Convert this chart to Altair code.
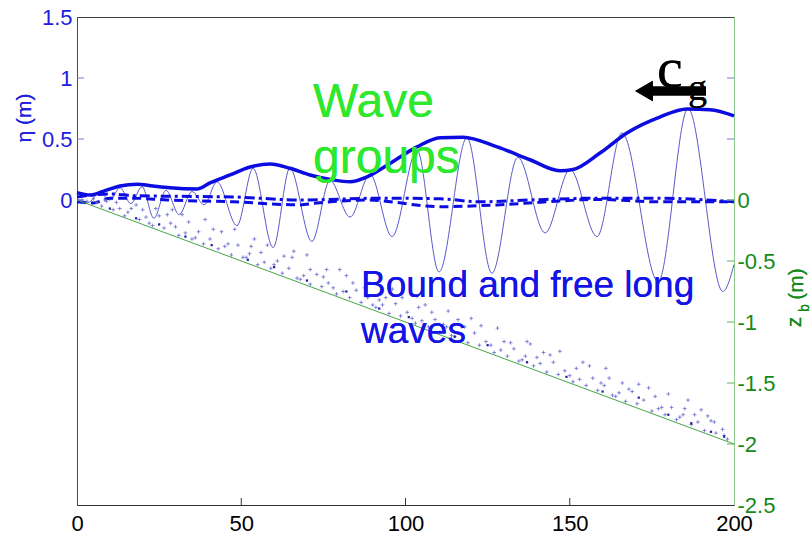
import altair as alt
import pandas as pd

# ---------------- data ----------------
# thin free-surface wave: alternating crests / troughs
wave_x = [0, 3.4, 7.0, 10.0, 13.1, 16.4, 19.8, 23.4, 27.1, 31.1, 35.0, 38.7, 42.6, 48.7,
          53.6, 59.7, 64.8, 71.5, 77.0, 83.1, 89.2, 95.9, 103.5, 110.2, 118.7, 126.3,
          134.2, 142.5, 150.1, 158.3, 165.9, 176.9, 186.0, 196.6, 200]
wave_eta = [0.01, -0.02, 0.06, 0.0, 0.10, -0.03, 0.11, -0.15, 0.08, -0.12, 0.07, -0.04,
            0.15, -0.21, 0.26, -0.39, 0.26, -0.34, 0.16, -0.14, 0.21, -0.30, 0.41, -0.59,
            0.51, -0.60, 0.35, -0.27, 0.25, -0.30, 0.55, -0.67, 0.75, -0.75, -0.53]

# wave-group envelope (thick solid)
env_x = [0, 4.0, 7.9, 13.1, 18.3, 23.1, 28.3, 36.5, 40.5, 46.6, 52.7, 58.8, 64.8, 70.9,
         77.9, 83.1, 88.3, 95.3, 103.5, 110.5, 117.5, 127.9, 137.9, 147.0, 151.0, 159.2,
         167.4, 177.4, 185.7, 192.7, 200]
env_eta = [0.06, 0.04, 0.07, 0.115, 0.13, 0.115, 0.10, 0.09, 0.14, 0.205, 0.27, 0.295,
           0.26, 0.205, 0.165, 0.15, 0.19, 0.30, 0.435, 0.51, 0.515, 0.435, 0.33, 0.24,
           0.25, 0.385, 0.55, 0.68, 0.745, 0.74, 0.69]

# long waves (dash-dot and dashed)
dd_x = [0, 10, 17.4, 31.7, 47.5, 67.9, 93.2, 110.5, 122.7, 138, 158.3, 176.6, 200]
dd_eta = [0.025, 0.05, 0.035, 0.03, 0.025, 0.0, 0.015, 0.01, -0.015, 0.0, 0.015, 0.015, -0.015]
ds_x = [0, 4.9, 10, 17, 27.4, 47.5, 67.9, 73, 88.3, 110.5, 127.9, 143, 158.3, 176.6, 200]
ds_eta = [-0.015, -0.025, 0.015, 0.015, 0.0, -0.015, -0.04, -0.025, 0.0, -0.055, -0.04,
          -0.015, 0.005, -0.015, -0.015]

# bed level
bed_x = [0, 200]
bed_z = [0, -2]

# scattered markers above the bed
plus_x_a = [3, 7.5, 11, 14.5, 19, 23, 26.5, 31, 35, 38.5, 43, 47, 50.5, 55, 59, 62.5, 67, 71,
            74.5, 79, 83, 86.5, 91, 95, 98.5, 103, 107, 110.5, 115, 119, 122.5, 127, 131,
            134.5, 139, 143, 146.5, 151, 155, 158.5, 163, 167, 170.5, 175, 179, 182.5, 187,
            191, 194.5, 198]
plus_z_a = [-0.01, -0.05, -0.08, -0.13, -0.16, -0.21, -0.23, -0.29, -0.32, -0.36, -0.40,
            -0.45, -0.47, -0.53, -0.56, -0.60, -0.64, -0.69, -0.71, -0.77, -0.80, -0.84,
            -0.88, -0.93, -0.95, -1.01, -1.04, -1.08, -1.12, -1.17, -1.19, -1.25, -1.28,
            -1.32, -1.36, -1.41, -1.43, -1.49, -1.52, -1.56, -1.60, -1.65, -1.67, -1.73,
            -1.76, -1.80, -1.84, -1.89, -1.91, -1.96]
plus_x_b = [5, 9, 13, 16.5, 21, 25, 28.5, 33, 37, 40.5, 45, 49, 52.5, 57, 61, 64.5, 69, 73,
            76.5, 81, 85, 88.5, 93, 97, 100.5, 105, 109, 112.5, 117, 121, 124.5, 129, 133,
            136.5, 141, 145, 148.5, 153, 157, 160.5, 165, 169, 172.5, 177, 181, 184.5, 189,
            193, 196.5]
plus_z_b = [0.01, -0.01, -0.07, -0.07, -0.14, -0.13, -0.19, -0.27, -0.26, -0.32, -0.38,
            -0.37, -0.44, -0.51, -0.50, -0.56, -0.62, -0.61, -0.68, -0.75, -0.74, -0.80,
            -0.86, -0.85, -0.92, -0.99, -0.98, -1.04, -1.10, -1.09, -1.16, -1.23, -1.22,
            -1.28, -1.34, -1.33, -1.40, -1.47, -1.46, -1.52, -1.58, -1.57, -1.64, -1.71,
            -1.70, -1.76, -1.82, -1.81, -1.88]
plus_x_c = [12, 18, 24, 29, 34, 39, 44, 48, 53, 58, 63, 66, 71, 76, 80, 84, 89, 94, 99,
            103.5, 108, 113, 118, 123, 128, 132, 137, 142, 147, 152, 156, 161, 166, 171, 176,
            180, 185, 190, 194]
plus_z_c = [-0.02, -0.04, -0.07, -0.08, -0.18, -0.16, -0.26, -0.24, -0.38, -0.37, -0.46,
            -0.42, -0.57, -0.57, -0.57, -0.68, -0.68, -0.80, -0.80, -0.79, -0.92, -0.91,
            -1.04, -1.03, -1.05, -1.17, -1.16, -1.25, -1.24, -1.38, -1.36, -1.38, -1.50,
            -1.51, -1.61, -1.59, -1.71, -1.72, -1.82]
plus_x_d = [1.5, 6, 8.5, 15.5, 20, 22, 27.5, 30, 32, 36, 41.5, 46, 51.5, 54, 56, 60, 65.5,
            68, 70, 75, 78, 82, 87.5, 90, 92, 96, 102, 104, 106, 111.5, 114, 116, 120, 126,
            130, 135.5, 138, 140, 144, 150, 154, 159.5, 162, 164, 168, 174, 178, 183.5, 186,
            188, 192, 197]
plus_z_d = [0.0, -0.02, 0.0, -0.10, -0.08, -0.19, -0.12, -0.22, -0.12, -0.31, -0.24, -0.36,
            -0.47, -0.32, -0.43, -0.53, -0.47, -0.65, -0.45, -0.63, -0.72, -0.62, -0.72,
            -0.86, -0.82, -0.73, -0.97, -0.88, -0.86, -1.02, -1.11, -0.98, -0.97, -1.19,
            -1.16, -1.31, -1.18, -1.29, -1.27, -1.44, -1.33, -1.50, -1.46, -1.61, -1.55,
            -1.54, -1.70, -1.78, -1.64, -1.76, -1.77, -1.93]
dot_x = [10, 18, 25, 33, 41, 52, 60, 70, 82, 92, 101, 115, 125, 137, 149, 160, 171, 180,
         187, 193, 197]
dot_z = [-0.07, -0.15, -0.20, -0.30, -0.37, -0.49, -0.55, -0.66, -0.75, -0.89, -0.96,
         -1.12, -1.19, -1.33, -1.45, -1.57, -1.62, -1.76, -1.83, -1.90, -1.94]

# tick labels
x_ticks = [0, 50, 100, 150, 200]
eta_ticks = [0, 0.5, 1, 1.5]
zb_ticks = [0, -0.5, -1, -1.5, -2, -2.5]

# ---------------- chart ----------------
W, H = 657, 488
FONT = "Liberation Sans"
BLUE_LBL = "#2020dd"
GREEN_LBL = "#14891a"

xs = alt.Scale(domain=[0, 200], nice=False, zero=False)
ys = alt.Scale(domain=[-2.5, 1.5], nice=False, zero=False)

x_axis = alt.Axis(values=x_ticks, labelExpr="toString(datum.value)", ticks=False,
                  labelFontSize=22, labelFont=FONT, labelColor="black",
                  domainColor="#333333", labelPadding=8, title=None, grid=False,
                  labelFlush=False, labelOverlap=False)
left_axis = alt.Axis(orient="left", values=eta_ticks, labelExpr="toString(datum.value)",
                     ticks=False, labelFontSize=22, labelFont=FONT, labelColor=BLUE_LBL,
                     domainColor="#3a3acc", labelPadding=5, title=None, grid=False,
                     labelOverlap=False)
right_axis = alt.Axis(orient="right", values=zb_ticks, labelExpr="toString(datum.value)",
                      ticks=False, labelFontSize=22, labelFont=FONT, labelColor=GREEN_LBL,
                      domainColor="#8cc88c", labelPadding=3, title=None, grid=False,
                      labelOverlap=False)


def X(f):
    return alt.X(f, type="quantitative", scale=xs, axis=x_axis)


def Y(f, axis=None):
    return alt.Y(f, type="quantitative", scale=ys, axis=axis)


df_wave = pd.DataFrame({"x": wave_x, "eta": wave_eta})
df_env = pd.DataFrame({"x": env_x, "eta": env_eta})
df_dd = pd.DataFrame({"x": dd_x, "eta": dd_eta})
df_ds = pd.DataFrame({"x": ds_x, "eta": ds_eta})
df_bed = pd.DataFrame({"x": bed_x, "z": bed_z})
df_plus = pd.DataFrame({"x": plus_x_a + plus_x_b + plus_x_c + plus_x_d,
                        "z": plus_z_a + plus_z_b + plus_z_c + plus_z_d})
df_dot = pd.DataFrame({"x": dot_x, "z": dot_z})

thin = alt.Chart(df_wave).mark_line(interpolate="monotone", color="#5a5acb",
                                    strokeWidth=1).encode(x=X("x"), y=Y("eta", left_axis))
env = alt.Chart(df_env).mark_line(interpolate="monotone", color="#0c0ce0",
                                  strokeWidth=3.5).encode(x=X("x"), y=Y("eta"))
dashdot = alt.Chart(df_dd).mark_line(interpolate="monotone", color="#0c0ce0", strokeWidth=3,
                                     strokeDash=[10, 4, 3, 4]).encode(x=X("x"), y=Y("eta"))
dashed = alt.Chart(df_ds).mark_line(interpolate="monotone", color="#0c0ce0", strokeWidth=3,
                                    strokeDash=[9, 5]).encode(x=X("x"), y=Y("eta"))
bed = alt.Chart(df_bed).mark_line(color="#44a844", strokeWidth=1).encode(
    x=X("x"), y=Y("z", right_axis))
plus = alt.Chart(df_plus).mark_point(shape="M-1,0H1M0,-1V1", size=14, strokeWidth=0.8,
                                     color="#6b6bd0", filled=False, opacity=1).encode(
    x=X("x"), y=Y("z"))
dots = alt.Chart(df_dot).mark_square(size=5, color="#1f1fa8", opacity=1).encode(
    x=X("x"), y=Y("z"))

# inward ticks (MATLAB style)
df_eta_t = pd.DataFrame({"v": eta_ticks[:3]})
df_zb_t = pd.DataFrame({"v": zb_ticks[:5]})
df_x_t = pd.DataFrame({"t": x_ticks[1:4]})
tl = alt.Chart(df_eta_t).mark_rule(color="#7a7ad0", strokeWidth=1).encode(
    y=Y("v"), x=alt.value(0), x2=alt.value(7))
tr_blue = alt.Chart(df_eta_t).mark_rule(color="#7a7ad0", strokeWidth=1).encode(
    y=Y("v"), x=alt.value(W - 7), x2=alt.value(W))
tr_green = alt.Chart(df_zb_t).mark_rule(color="#5fae5f", strokeWidth=1).encode(
    y=Y("v"), x=alt.value(W - 7), x2=alt.value(W))
tb = alt.Chart(df_x_t).mark_rule(color="#333333", strokeWidth=1).encode(
    x=X("t"), y=alt.value(H), y2=alt.value(H - 7))


def txt(s, x, y, size, color, font=FONT, align="left", baseline="alphabetic", angle=0):
    kw = dict(text=s, fontSize=size, font=font, color=color, align=align, baseline=baseline)
    if angle:
        kw["angle"] = angle
    return alt.Chart(df_bed).mark_text(**kw).encode(x=alt.value(x), y=alt.value(y))


GREEN_TXT = "#2de82d"
BLUE_TXT = "#1414e6"
texts = [
    txt("η (m)", -52, 101, 21, BLUE_LBL, align="center", baseline="middle", angle=270),
    txt("(m)", 720, 267, 21, GREEN_LBL, align="center", baseline="middle", angle=270),
    txt("z", 718, 305, 21, GREEN_LBL, align="center", baseline="middle", angle=270),
    txt("b", 728, 291, 14, GREEN_LBL, align="center", baseline="middle", angle=270),
    txt("Wave", 236, 100, 48, GREEN_TXT),
    txt("groups", 236, 156, 48, GREEN_TXT),
    txt("Bound and free long", 284, 280, 37, BLUE_TXT),
    txt("waves", 284, 326, 37, BLUE_TXT),
    txt("c", 580, 70, 58, "black", font="Liberation Serif"),
    txt("g", 611, 83, 38, "black", font="Liberation Serif"),
]
arrow_shaft = alt.Chart(df_bed).mark_rule(color="black", strokeWidth=9).encode(
    x=alt.value(574), x2=alt.value(629), y=alt.value(74))
arrow_head = alt.Chart(df_bed).mark_point(shape="triangle-left", size=420, filled=True,
                                          color="black", opacity=1).encode(
    x=alt.value(567), y=alt.value(74))

chart = alt.layer(
    thin, env, dashdot, dashed, bed, plus, dots, tl, tr_blue, tr_green, tb,
    *texts, arrow_shaft, arrow_head
).resolve_scale(y="independent").properties(
    width=W, height=H,
    padding={"left": 77, "top": 17, "right": 77, "bottom": 32},
    autosize=alt.AutoSizeParams(type="none"),
    background="white",
).configure_view(stroke="#404040", strokeWidth=1)

chart.save("out.html", embed_options={"renderer": "svg", "actions": False})
